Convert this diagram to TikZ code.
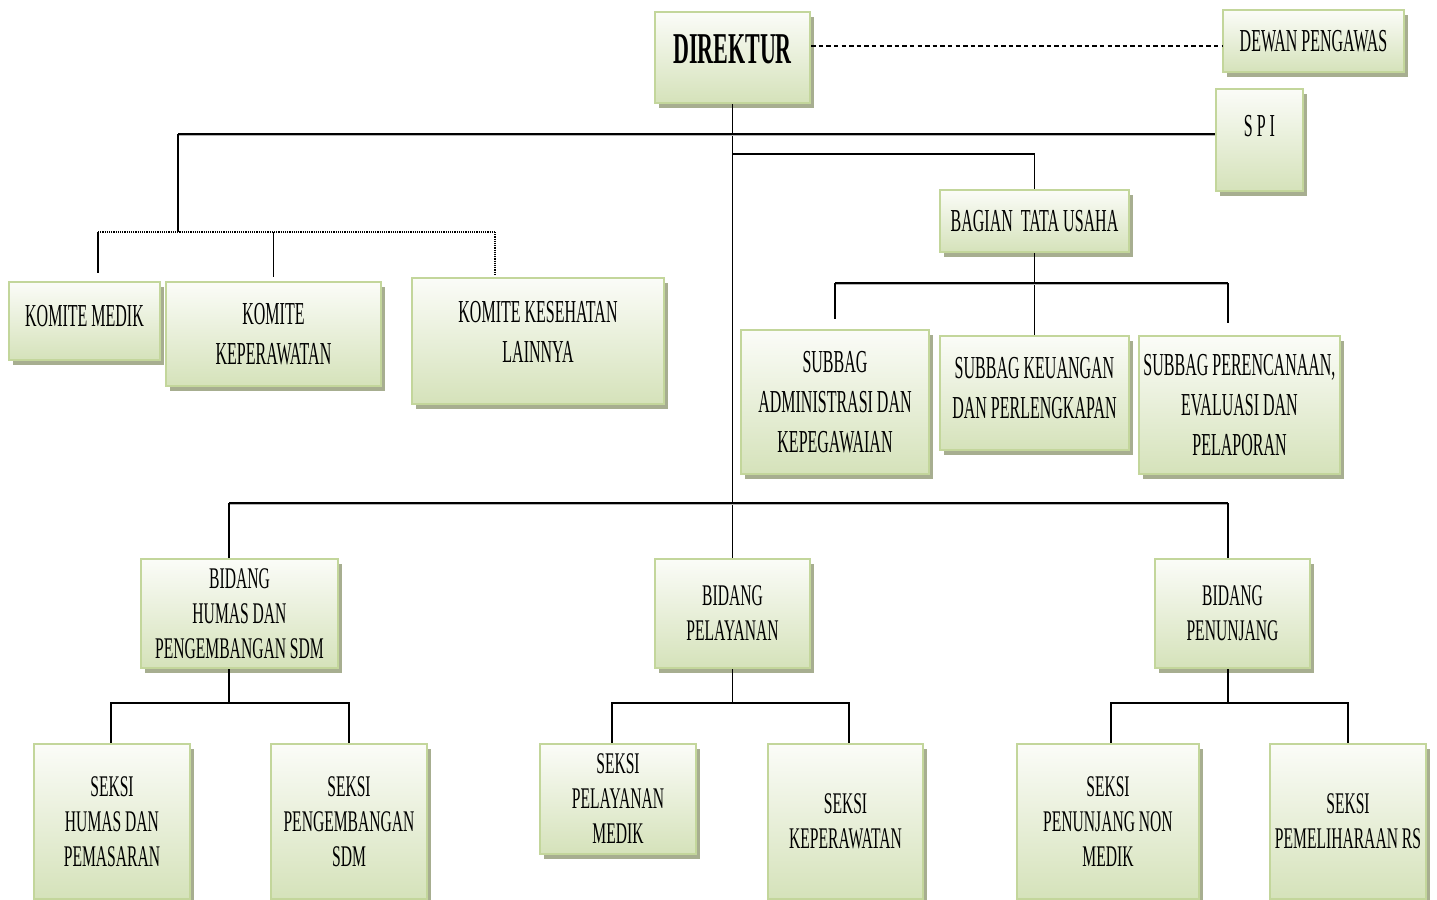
\documentclass[tikz,border=0pt]{standalone}
\usepackage{fontspec}
\setmainfont[FakeStretch=0.5]{Liberation Serif}
\newfontfamily\lowfont[FakeStretch=0.52]{Liberation Serif}
\usetikzlibrary{shadows,calc}
\definecolor{boxtop}{HTML}{FBFCF8}
\definecolor{boxbot}{HTML}{D5E2BA}
\definecolor{boxline}{HTML}{C3D69B}
\definecolor{boxshade}{HTML}{A7AE90}
\tikzset{
  unit/.style ={rectangle, draw=boxline, line width=1.1pt, top color=boxtop,
                bottom color=boxbot, inner sep=1pt, align=center,
                drop shadow={shadow xshift=2.2pt, shadow yshift=-2.4pt,
                             fill=boxshade, opacity=1}},
  upper/.style={unit, font=\fontsize{16}{20}\selectfont},
  lower/.style={unit, font=\lowfont\fontsize{15}{17.5}\selectfont},
  wh/.style 2 args={minimum width=#1*0.5pt, minimum height=#2*0.5pt},
  % text that sits above the middle of its box
  inlab/.style={align=center, inner sep=0pt, font=\fontsize{16}{20}\selectfont},
  link/.style ={draw=black, line width=0.85pt},
  bar/.style  ={draw=black, line width=1.2pt,
                preaction={draw=gray!60, line width=1.2pt,
                           transform canvas={yshift=-0.6pt}}},
  dashlink/.style={draw=black, line width=0.7pt, dash pattern=on 2.2pt off 1.6pt},
  dotlink/.style ={draw=black, line width=0.6pt, dash pattern=on 0.6pt off 0.5pt},
}
\begin{document}
\begin{tikzpicture}[x=0.5pt, y=-0.5pt]
\useasboundingbox (0,0) rectangle (1437,900);
% top level
\node[unit, wh={155}{91},
      label={[inlab, font=\fontsize{22}{26}\selectfont\bfseries, yshift=4.25pt]center:DIREKTUR}]
      (dir) at (732.5,57.5) {};
\node[upper, wh={181}{62}] (dewan) at (1313.5,41) {DEWAN PENGAWAS};
\node[unit, wh={87}{102},
      label={[inlab, font=\fontsize{16}{19}\selectfont, yshift=6.75pt]center:S P I}]
      (spi) at (1259.5,140) {};
\node[upper, wh={189}{62}] (btu) at (1034.5,221) {BAGIAN\ \ TATA USAHA};
% komite
\node[unit, wh={151}{78}, label={[inlab, yshift=2.5pt]center:KOMITE MEDIK}]
      (kmed) at (84.5,321) {};
\node[upper, wh={215}{104}] (kkep) at (273.5,334) {KOMITE\\KEPERAWATAN};
\node[unit, wh={252}{126}, label={[inlab, yshift=4.5pt]center:KOMITE KESEHATAN\\LAINNYA}]
      (kkes) at (538,341) {};
% subbag
\node[upper, wh={188}{144}] (sadm) at (835,402) {SUBBAG\\ADMINISTRASI DAN\\KEPEGAWAIAN};
\node[unit, wh={189}{114}, label={[inlab, yshift=2.5pt]center:SUBBAG KEUANGAN\\DAN PERLENGKAPAN}]
      (skeu) at (1034.5,393) {};
\node[upper, wh={201}{138}] (sper) at (1239.5,405) {SUBBAG PERENCANAAN,\\EVALUASI DAN\\PELAPORAN};
% bidang
\node[lower, wh={197}{109}] (bhum) at (239.5,613.5) {BIDANG\\HUMAS DAN\\PENGEMBANGAN SDM};
\node[lower, wh={155}{109}] (bpel) at (732.5,613.5) {BIDANG\\PELAYANAN};
\node[lower, wh={155}{109}] (bpen) at (1232.5,613.5) {BIDANG\\PENUNJANG};
% seksi
\node[lower, wh={156}{155}] (shum) at (112,821.5) {SEKSI\\HUMAS DAN\\PEMASARAN};
\node[lower, wh={156}{155}] (ssdm) at (349,821.5) {SEKSI\\PENGEMBANGAN\\SDM};
\node[lower, wh={156}{110}] (smed) at (618,799) {SEKSI\\PELAYANAN\\MEDIK};
\node[lower, wh={155}{155}] (skep) at (845.5,821.5) {SEKSI\\KEPERAWATAN};
\node[lower, wh={182}{155}] (snon) at (1108,821.5) {SEKSI\\PENUNJANG NON\\MEDIK};
\node[lower, wh={156}{155}] (spml) at (1348,821.5) {SEKSI\\PEMELIHARAAN RS};

% junctions
\coordinate (dtap)  at ($(dir.east)+(0,-11.5)$);
\coordinate (kroot) at (178,134);
\coordinate (kbar)  at (178,232);
\coordinate (kl)    at (98,232);
\coordinate (kr)    at (495,232);
\coordinate (sbar)  at (1034.5,283);
\coordinate (sR)    at (1228,283);
\coordinate (bL)    at (229,503);
\coordinate (bR)    at (1228,503);

\draw[dashlink] (dtap) -- (dtap -| dewan.west);
\draw[link] (dir) -- (bpel);
\draw[bar] (kroot) -- (kroot -| spi.west);
\draw[link] (kroot) -- (kbar);
\draw[dotlink] (kl) -- (kr);
\draw[link] (kl) -- ([yshift=4pt]kl |- kmed.north);
\draw[link] (kbar -| kkep) -- ([yshift=2pt]kkep.north);
\draw[dotlink] (kr) -- ([yshift=1.5pt]kr |- kkes.north);
\draw[link] (dir.south |- 0,154) -| (btu.north);
\draw[link] (btu) -- (skeu);
\draw[bar] (sbar -| sadm) -- (sR);
\draw[link] (sbar -| sadm) -- ([yshift=5pt]sadm.north);
\draw[link] (sR) -- ([yshift=6pt]sR |- sper.north);
\draw[bar] (bL) -- (bR);
\draw[link] (bL) -- (bL |- bhum.north);
\draw[link] (bR) -- (bR |- bpen.north);
\foreach \b/\x/\l/\xl/\r/\xr in {bhum/229/shum/111/ssdm/349,
                                 bpel/732.5/smed/612/skep/849,
                                 bpen/1228/snon/1111/spml/1348} {
  \coordinate (\b-j) at (\x,703);
  \draw[link] (\b-j |- \b.south) -- (\b-j);
  \draw[link] (\l.north -| \xl,0) |- (\b-j) -| (\r.north -| \xr,0);
}
\end{tikzpicture}
\end{document}
